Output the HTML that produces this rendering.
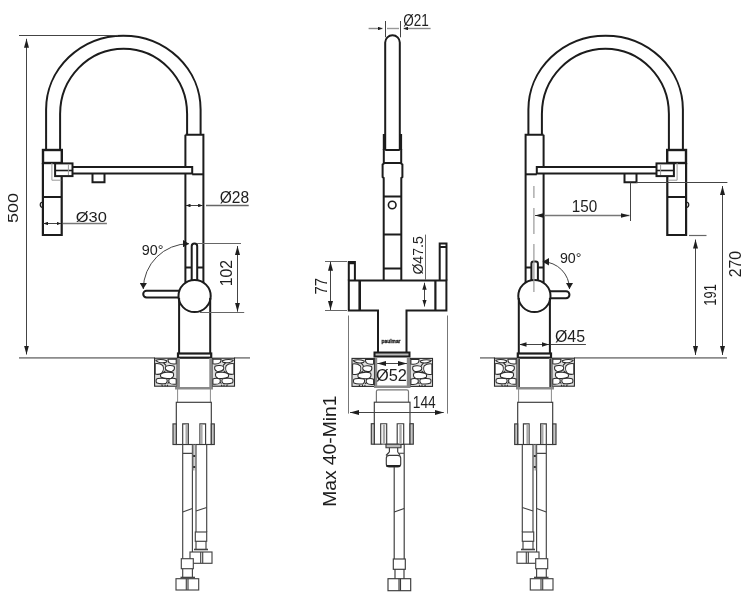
<!DOCTYPE html>
<html><head><meta charset="utf-8">
<style>
html,body{margin:0;padding:0;background:#fff;width:747px;height:600px;overflow:hidden}
svg{display:block;will-change:transform}
text{font-family:"Liberation Sans",sans-serif;fill:#1e1e1e}
</style></head>
<body>
<svg width="747" height="600" viewBox="0 0 747 600">
<defs>
  <marker id="ar" viewBox="0 0 9 5" refX="9" refY="2.5" markerWidth="9" markerHeight="5" orient="auto-start-reverse" markerUnits="userSpaceOnUse">
    <path d="M0,0 L9,2.5 L0,5 z" fill="#1e1e1e"/>
  </marker>
  <marker id="ab" viewBox="0 0 9 6.5" refX="9" refY="3.25" markerWidth="9" markerHeight="6.5" orient="auto-start-reverse" markerUnits="userSpaceOnUse">
    <path d="M0,0 L9,3.25 L0,6.5 z" fill="#1e1e1e"/>
  </marker>
  <marker id="ac" viewBox="0 0 6.3 7.5" refX="6.3" refY="3.75" markerWidth="6.3" markerHeight="7.5" orient="auto-start-reverse" markerUnits="userSpaceOnUse">
    <path d="M0,0 L6.3,3.75 L0,7.5 z" fill="#1e1e1e"/>
  </marker>
  <marker id="am" viewBox="0 0 7 4.4" refX="7" refY="2.2" markerWidth="7" markerHeight="4.4" orient="auto-start-reverse" markerUnits="userSpaceOnUse">
    <path d="M0,0 L7,2.2 L0,4.4 z" fill="#1e1e1e"/>
  </marker>
  <marker id="as" viewBox="0 0 4.5 3.6" refX="4.5" refY="1.8" markerWidth="4.5" markerHeight="3.6" orient="auto-start-reverse" markerUnits="userSpaceOnUse">
    <path d="M0,0 L4.5,1.8 L0,3.6 z" fill="#1e1e1e"/>
  </marker>
  <g id="stones">
    <rect x="0" y="0" width="22.5" height="28" fill="#e0e0e0" stroke="#2a2a2a" stroke-width="1.1"/>
    <g fill="#fff" stroke="#2a2a2a" stroke-width="1.05" stroke-linejoin="round">
      <path d="M1.2,2 C4,1.2 9,1.3 12.2,2.6 C12.5,3.8 11,4.6 8,4.6 C5,4.6 2.5,3.8 1.2,2z"/>
      <path d="M13.4,1 L21.6,0.9 L21.6,5.5 C19,6 16,5.6 14.5,4.5 C13.6,3.6 13.4,2 13.4,1z"/>
      <path d="M0.6,5.5 C3,5.2 6.5,5.8 8.3,7.5 C9.2,9.5 8.8,13 7,15 C5,16.3 2,16.2 0.6,15.8z"/>
      <path d="M11,8.5 C12.5,7.2 17,7 19.5,8 C20.3,10 19.8,12.5 17.5,13.1 C15,13.4 12,12.8 11,11.2 C10.6,10.2 10.6,9.2 11,8.5z"/>
      <path d="M6.5,15.5 C9,13.8 15,13.5 18.5,14.5 C19.5,16.5 19.2,19 16.5,20 C13,20.5 8.5,20.3 6.2,18.8 C5.7,17.7 5.8,16.5 6.5,15.5z"/>
      <path d="M1.75,21 C3,20 9,19.8 12,20.6 C13,22 12.8,24.5 11,25.4 C8,25.8 4,25.6 1.9,24.6 C1.4,23.5 1.4,22 1.75,21z"/>
      <path d="M14.5,20.8 C16.5,20 20,20 21.6,20.8 L21.6,26 C19,26.3 16,26 14.8,24.8 C14,23.5 14,22 14.5,20.8z"/>
      <path d="M7,26.5 L8,28 M10.5,26.2 L10.5,28 M13.2,26.5 L12.5,28 M9,4.6 L11.5,7.5 M8.5,14.5 L11,12.5 M13,25.4 L14.5,24"/>
    </g>
  </g>
  <!-- common view (left coordinates) -->
  <g id="view">
    <g fill="none" stroke="#1c1c1c" stroke-width="2">
      <path d="M46.1,150 V109.5 A77.25,73.8 0 0 1 200.6,109.5 V134.7"/>
      <path d="M60.1,150 V114 A63.5,65.3 0 0 1 187.1,114 V134.7"/>
      <rect x="43" y="150" width="18.8" height="13" stroke-width="2.4"/>
      <path d="M42.9,163 V235 H61.7 V163" stroke-width="2.2"/>
      <path d="M43,197 H61.5"/>
      <path d="M42.5,202 A2.8,2.8 0 0 0 42.5,207.5" stroke-width="1.2"/>
      <rect x="55.1" y="163.4" width="17.4" height="12.7" fill="#fff"/>
      <path d="M55.1,170.5 H72.5" stroke-width="1.6"/>
      <path d="M72.5,166.9 H192.2 V173.6 H72.5"/>
      <path d="M92.5,173.6 V182.3 H104.5 V173.6"/>
      <path d="M185.4,134.7 H203.4 V282.6 M185.4,134.7 V166.9 M185.4,173.6 V282.6"/>
      <path d="M192.2,174.3 H203.4"/>
      <path d="M185.4,267.5 H191.7 M197.2,267.5 H203.4"/>
      <circle cx="194.6" cy="296" r="16.1"/>
      <path d="M179.1,298 V353 M210.2,298 V353"/>
      <rect x="178" y="353.5" width="33.2" height="4.2" stroke-width="2.2"/>
    </g>
    <path d="M68.4,164.5 V175 M51.9,163 V180.2 H61.2" fill="none" stroke="#999" stroke-width="1"/>
    <use href="#stones" x="154.6" y="358.2"/>
    <use href="#stones" transform="translate(234.5,358.2) scale(-1,1)"/>
    <g fill="none" stroke="#8a8a8a">
      <path d="M178.6,358 V388 M210.6,358 V388" stroke-width="2.6"/>
      <path d="M175,388.3 H213" stroke-width="2.6"/>
      <path d="M177.6,389 V402.3 M210.4,389 V402.3" stroke-width="1"/>
    </g>
    <g fill="none" stroke="#3a3a3a" stroke-width="1.15">
      <rect x="176.3" y="402.3" width="35" height="42.2"/>
      <rect x="173" y="423.9" width="3.3" height="20.6" fill="#c4c4c4"/>
      <rect x="211.3" y="423.9" width="3" height="20.6" fill="#c4c4c4"/>
      <path d="M182.7,444.5 V423.9 H188.4 V444.5 M199.9,444.5 V423.9 H205.6 V444.5"/>
    </g>
    <path d="M186.8,424.5 V444 M201.3,424.5 V444" stroke="#aaa" stroke-width="2.6"/>
    <!-- hoses -->
    <g fill="none" stroke="#444" stroke-width="1.15">
      <path d="M182.7,444.5 V453.3 H192.4 M182.7,453.3 V558.7 M192.4,444.5 V552"/>
      <path d="M182.7,512 L192.4,508.5"/>
      <path d="M196,444.5 V532 M206.7,444.5 V532"/>
      <path d="M196,511 L206.7,507.5"/>
      <path d="M193.2,444.5 V470.5 M195.2,444.5 V470.5" stroke="#888"/>
      <rect x="195.3" y="532" width="11.4" height="9.3" fill="#fff"/>
      <path d="M196,541.3 V549 M206,541.3 V549"/>
      <path d="M194,549.5 H208" stroke-width="1.6"/>
      <rect x="190" y="552" width="22" height="11.3" fill="#fff"/>
      <path d="M200.7,552 V563.3 M202.7,552 V563.3"/>
      <rect x="181.3" y="558.7" width="12" height="10" fill="#fff"/>
      <path d="M182.7,568.7 V577 M192.4,568.7 V577"/>
      <path d="M180.5,577.5 H195" stroke-width="1.6"/>
      <rect x="176" y="578.7" width="22.7" height="11.3"/>
      <path d="M186.3,578.7 V590 M188,578.7 V590"/>
    </g>
    <path d="M193.2,456 H195.2 M193.2,467 H195.2" stroke="#333" stroke-width="2"/>
  </g>
</defs>

<!-- LEFT VIEW -->
<path d="M19,357.8 H155 M234,357.8 H250 M480,357.8 H495 M574,357.8 H727" stroke="#8c8c8c" stroke-width="1.8"/>
<use href="#view"/>
<g fill="none" stroke="#1c1c1c" stroke-width="2">
  <path d="M191.7,281 V246.3 A2.75,2.75 0 0 1 197.2,246.3 V281"/>
  <path d="M179,290.7 H146.6 A3.4,3.4 0 0 0 146.6,297.5 H179"/>
</g>
<g fill="none" stroke="#444" stroke-width="1">
  <path d="M143.25,289 A45.7,45.7 0 0 1 189,243.7" marker-start="url(#ac)" marker-end="url(#ac)"/>
  <path d="M19,35.5 H118"/>
  <path d="M26.5,38.75 V354.5" marker-start="url(#ar)" marker-end="url(#ar)"/>
  <path d="M43.5,223.5 H61" marker-start="url(#as)" marker-end="url(#as)"/>
  <path d="M63,223.5 H106.9" stroke="#777" stroke-width="1.4"/>
  <path d="M186,205.5 H202.6" marker-start="url(#as)" marker-end="url(#as)"/>
  <path d="M206,205.5 H248.7" stroke="#666" stroke-width="1.3"/>
  <path d="M197,243.5 H241 M200,312.5 H244.2" stroke="#666" stroke-width="1.2"/>
  <path d="M237.5,246 V311.7" marker-start="url(#ar)" marker-end="url(#ar)"/>
</g>

<!-- RIGHT VIEW (mirror) -->
<use href="#view" transform="translate(729,0) scale(-1,1)"/>
<path d="M519.2,358.5 V387 M550.3,358.5 V387" stroke="#333" stroke-width="1.3"/>
<g fill="none" stroke="#1c1c1c" stroke-width="2">
  <path d="M531.4,281 V263.8 Q531.4,261.6 533.6,261.6 H535.7 Q537.9,261.6 537.9,263.8 V281"/>
  <path d="M550,291.3 H566 A3.45,3.45 0 0 1 566,298.2 H550"/>
</g>
<path d="M533.9,186 V198 M533.9,208 V234 M533.9,244 V292" stroke="#999" stroke-width="1.2"/>
<g fill="none" stroke="#444" stroke-width="1">
  <path d="M542.7,261.7 A27.3,27.3 0 0 1 569.5,289" marker-start="url(#ac)" marker-end="url(#ac)"/>
  <path d="M535,215.5 H544" marker-start="url(#ar)"/>
  <path d="M544,215.5 H629.5" stroke="#777" stroke-width="1.4" marker-end="url(#ar)"/>
  <path d="M630.5,182.5 V221" />
  <path d="M636,182.5 H727.4"/>
  <path d="M689,235.5 H706.5" stroke="#666" stroke-width="1.2"/>
  <path d="M695.5,239.5 V355" marker-start="url(#ar)" marker-end="url(#ar)"/>
  <path d="M722.5,186 V355" marker-start="url(#ar)" marker-end="url(#ar)"/>
  <path d="M519.5,344.5 H549" marker-start="url(#am)" marker-end="url(#am)"/>
  <path d="M551,344.5 H585.9"/>
</g>

<!-- MIDDLE VIEW -->
<g fill="none" stroke="#1c1c1c" stroke-width="2">
  <path d="M385.2,150 V42.5 A7.3,7.3 0 0 1 399.8,42.5 V150"/>
  <path d="M385.2,150 H399.8"/>
  <path d="M384.3,134 V150 M400.6,134 V150" stroke-width="3"/>
  <path d="M383.8,149 V163.5 L382.6,164.5 V177 L383.7,178 V280.4 M401.2,149 V163.5 L402.4,164.5 V177 L401.3,178 V280.4"/>
  <path d="M383.8,163 H401.2 M383.6,196.5 H401.2 M383.6,234.5 H401.2 M383.8,268.4 H401.5"/>
  <circle cx="392.2" cy="205" r="3.8" stroke-width="1.6"/>
  <path d="M378,352.5 V310.4 H348.8 V280.4 H446.4 V310.4 H406.5 V352.5"/>
  <path d="M359.7,280.4 V310.4" stroke-width="2.6"/>
  <path d="M435.4,280.4 V310.4" stroke-width="2.2"/>
  <path d="M348.8,280.4 V261.9 H354.9 V280.4"/>
  <path d="M349,263 H354.9" stroke-width="2.5"/>
  <path d="M439.7,280.4 V243.5 H446.5 V280.4 M439.7,247 H446.5"/>
    <rect x="374.5" y="352.5" width="35" height="4" fill="#bbb"/>
</g>
<text x="381.5" y="342.5" font-size="5.5" font-weight="bold" textLength="19" lengthAdjust="spacingAndGlyphs" stroke="#1e1e1e" stroke-width="0.3">paulmar</text>
<use href="#stones" x="352" y="358.4"/>
<use href="#stones" transform="translate(432.5,358.4) scale(-1,1)"/>
<g fill="none" stroke="#8a8a8a">
  <path d="M376,358 V386.6 M408,358 V386.6" stroke-width="2.4"/>
  <path d="M374,386.8 H410.5" stroke-width="2.4"/>
</g>
<path d="M376.4,402.1 V391.6 Q376.4,389.8 378.2,389.8 H406.7 Q408.5,389.8 408.5,391.6 V402.1" fill="#fff" stroke="#777" stroke-width="1.2"/>
<g fill="none" stroke="#3a3a3a" stroke-width="1.15">
  <rect x="374.3" y="402.2" width="35.7" height="42"/>
  <rect x="371.3" y="423.7" width="3" height="20.5" fill="#c4c4c4"/>
  <rect x="410" y="423.7" width="3.3" height="20.5" fill="#c4c4c4"/>
  <path d="M380.7,444.2 V423.7 H386.7 V444.2 M397.2,444.2 V423.7 H403.7 V444.2"/>
  <path d="M386,444.2 H401 V447.7 H386 Z" fill="#bbb"/>
  <path d="M389.4,447.7 V452 M397.7,447.7 V452 M389.4,452 L386,455.5 M397.7,452 L400.2,455.5"/>
  <rect x="386.3" y="455.3" width="14.4" height="11.6" rx="3"/>
  <path d="M401,444.5 H404.2 V453.2 H399 M404.2,453.2 V467"/>
  <path d="M394.2,467 V559 M404.2,467 V559"/>
  <path d="M394.2,512 L404.2,508.5"/>
  <rect x="393.3" y="559" width="12" height="10.3"/>
  <path d="M395,569.3 V578.7 M404,569.3 V578.7"/>
  <rect x="388" y="578.7" width="22.7" height="12"/>
  <path d="M399,578.7 V590.7 M400.5,578.7 V590.7"/>
</g>
<path d="M383.5,444 V444.5 M384,424.5 V444 M400.5,424.5 V444" stroke="#aaa" stroke-width="2.4"/>
<path d="M386.5,466 H400" stroke="#222" stroke-width="2"/>
<g fill="none" stroke="#444" stroke-width="1">
  <path d="M368.6,28.5 H382.5" marker-end="url(#as)" stroke="#888" stroke-width="1.4"/>
  <path d="M387,28.5 H399" stroke="#999" stroke-width="1.4"/>
  <path d="M403.5,28.5 H430.6" marker-start="url(#as)" stroke="#888" stroke-width="1.4"/>
  <path d="M385.5,21 V37.3 M400.5,21 V37.3"/>
  <path d="M325,261.5 H347 M325,310.5 H347" stroke="#666" stroke-width="1.2"/>
  <path d="M330.5,261.7 V310" marker-start="url(#ar)" marker-end="url(#ar)"/>
  <path d="M425.5,234.6 V280" stroke="#666"/>
  <path d="M424.5,282.7 V306.5" marker-start="url(#am)" marker-end="url(#am)"/>
  <path d="M348.5,315.5 V413.6 M447.5,315.5 V413.6" stroke="#777"/>
  <path d="M350,412.5 H443.75" marker-start="url(#ar)" marker-end="url(#ar)"/>
  <path d="M377.2,363.5 H407" marker-start="url(#ar)" marker-end="url(#ar)"/>
</g>
<text transform="translate(18.15,223.01) rotate(-90)" font-size="14.28" textLength="30.04" lengthAdjust="spacingAndGlyphs">500</text>
<text x="75.84" y="221.66" font-size="15.23" textLength="31.05" lengthAdjust="spacingAndGlyphs">Ø30</text>
<text x="219.74" y="202.92" font-size="15.97" textLength="29.43" lengthAdjust="spacingAndGlyphs">Ø28</text>
<text x="141.73" y="254.71" font-size="14.51" textLength="21.78" lengthAdjust="spacingAndGlyphs">90°</text>
<text transform="translate(232.38,286.24) rotate(-90)" font-size="15.97" textLength="26.37" lengthAdjust="spacingAndGlyphs">102</text>
<text x="403.20" y="25.97" font-size="16.41" textLength="25.60" lengthAdjust="spacingAndGlyphs">Ø21</text>
<text transform="translate(423.46,274.59) rotate(-90)" font-size="15.06" textLength="38.36" lengthAdjust="spacingAndGlyphs">Ø47.5</text>
<text transform="translate(327.21,294.41) rotate(-90)" font-size="17.36" textLength="16.33" lengthAdjust="spacingAndGlyphs">77</text>
<text x="375.98" y="380.52" font-size="16.64" textLength="31.00" lengthAdjust="spacingAndGlyphs">Ø52</text>
<text x="412.75" y="407.52" font-size="16.69" textLength="23.02" lengthAdjust="spacingAndGlyphs">144</text>
<text transform="translate(335.71,506.85) rotate(-90)" font-size="18.99" textLength="111.24" lengthAdjust="spacingAndGlyphs">Max 40-Min1</text>
<text x="571.75" y="211.70" font-size="17.12" textLength="25.49" lengthAdjust="spacingAndGlyphs">150</text>
<text x="559.93" y="263.03" font-size="14.29" textLength="21.53" lengthAdjust="spacingAndGlyphs">90°</text>
<text x="554.92" y="341.65" font-size="16.50" textLength="30.12" lengthAdjust="spacingAndGlyphs">Ø45</text>
<text transform="translate(740.57,277.24) rotate(-90)" font-size="16.00" textLength="26.31" lengthAdjust="spacingAndGlyphs">270</text>
<text transform="translate(715.78,305.78) rotate(-90)" font-size="16.21" textLength="21.64" lengthAdjust="spacingAndGlyphs">191</text>
</svg>
</body></html>
